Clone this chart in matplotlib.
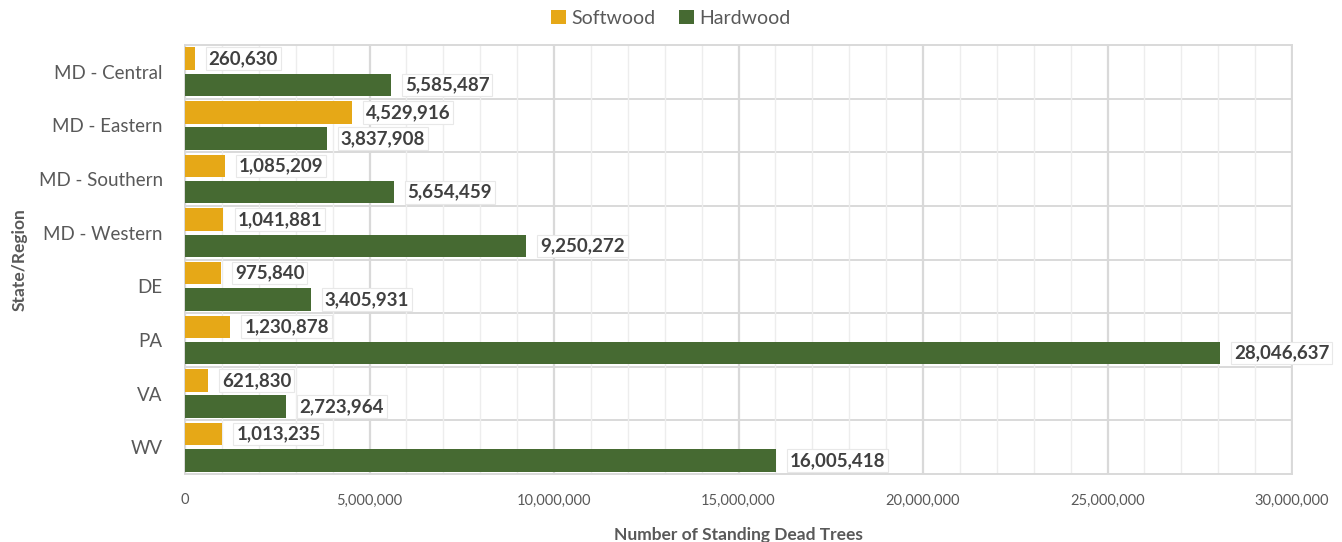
import matplotlib
matplotlib.use("Agg")
import matplotlib.pyplot as plt
from matplotlib.ticker import FuncFormatter, MultipleLocator
import numpy as np

regions = ["MD - Central", "MD - Eastern", "MD - Southern", "MD - Western",
           "DE", "PA", "VA", "WV"]
softwood = [260630, 4529916, 1085209, 1041881, 975840, 1230878, 621830, 1013235]
hardwood = [5585487, 3837908, 5654459, 9250272, 3405931, 28046637, 2723964, 16005418]

SOFT_COLOR = "#E6A817"
HARD_COLOR = "#466A32"
TEXT_GRAY = "#595959"
LABEL_GRAY = "#404040"

plt.rcParams["font.family"] = ["Lato", "DejaVu Sans"]

fig = plt.figure(figsize=(13.42, 5.42), dpi=100)
ax = fig.add_axes([185 / 1342, 1 - 474 / 542, (1292 - 185) / 1342, (474 - 45) / 542])

y = np.arange(len(regions))
h = 0.42
off = 0.245
bs = ax.barh(y - off, softwood, height=h, color=SOFT_COLOR, label="Softwood", zorder=3)
bh = ax.barh(y + off, hardwood, height=h, color=HARD_COLOR, label="Hardwood", zorder=3)

ax.set_ylim(len(regions) - 0.5, -0.5)
ax.set_xlim(0, 30_000_000)
ax.set_yticks(y)
ax.set_yticklabels(regions)

ax.xaxis.set_major_locator(MultipleLocator(5_000_000))
ax.xaxis.set_minor_locator(MultipleLocator(1_000_000))
ax.xaxis.set_major_formatter(FuncFormatter(lambda v, p: f"{int(v):,}"))

ax.grid(axis="x", which="major", color="#D9D9D9", linewidth=1.6, zorder=0)
ax.grid(axis="x", which="minor", color="#EDEDED", linewidth=1.0, zorder=0)
for b in np.arange(0.5, len(regions) - 0.5, 1):
    ax.axhline(b, color="#D9D9D9", linewidth=1.4, zorder=1)

for s in ax.spines.values():
    s.set_color("#D9D9D9")
    s.set_linewidth(1.4)

ax.tick_params(axis="both", which="both", length=0)
ax.tick_params(axis="y", labelsize=13.5, labelcolor=TEXT_GRAY, pad=16)
ax.tick_params(axis="x", labelsize=10.5, labelcolor=TEXT_GRAY, pad=14)

ax.set_ylabel("State/Region", fontsize=12.5, fontweight="bold", color=TEXT_GRAY, labelpad=8)
ax.set_xlabel("Number of Standing Dead Trees", fontsize=12.5, fontweight="bold",
              color=TEXT_GRAY, labelpad=14)

for bars, vals in ((bs, softwood), (bh, hardwood)):
    for rect, v in zip(bars, vals):
        ax.annotate(f"{v:,}", xy=(v, rect.get_y() + rect.get_height() / 2),
                    xytext=(10, 0), textcoords="offset points",
                    ha="left", va="center", fontsize=13.5, fontweight="bold",
                    color=LABEL_GRAY, zorder=5,
                    bbox=dict(boxstyle="square,pad=0.15", facecolor="white",
                              edgecolor="#E8E8E8", linewidth=0.8))

fig.legend(handles=[bs, bh], labels=["Softwood", "Hardwood"], loc="center",
           bbox_to_anchor=(0.5, 1 - 18 / 542), ncol=2, frameon=False,
           fontsize=14, handlelength=0.75, handleheight=0.75, handletextpad=0.3,
           columnspacing=1.2, labelcolor=TEXT_GRAY)

fig.savefig("out.png", dpi=100, facecolor="white")
